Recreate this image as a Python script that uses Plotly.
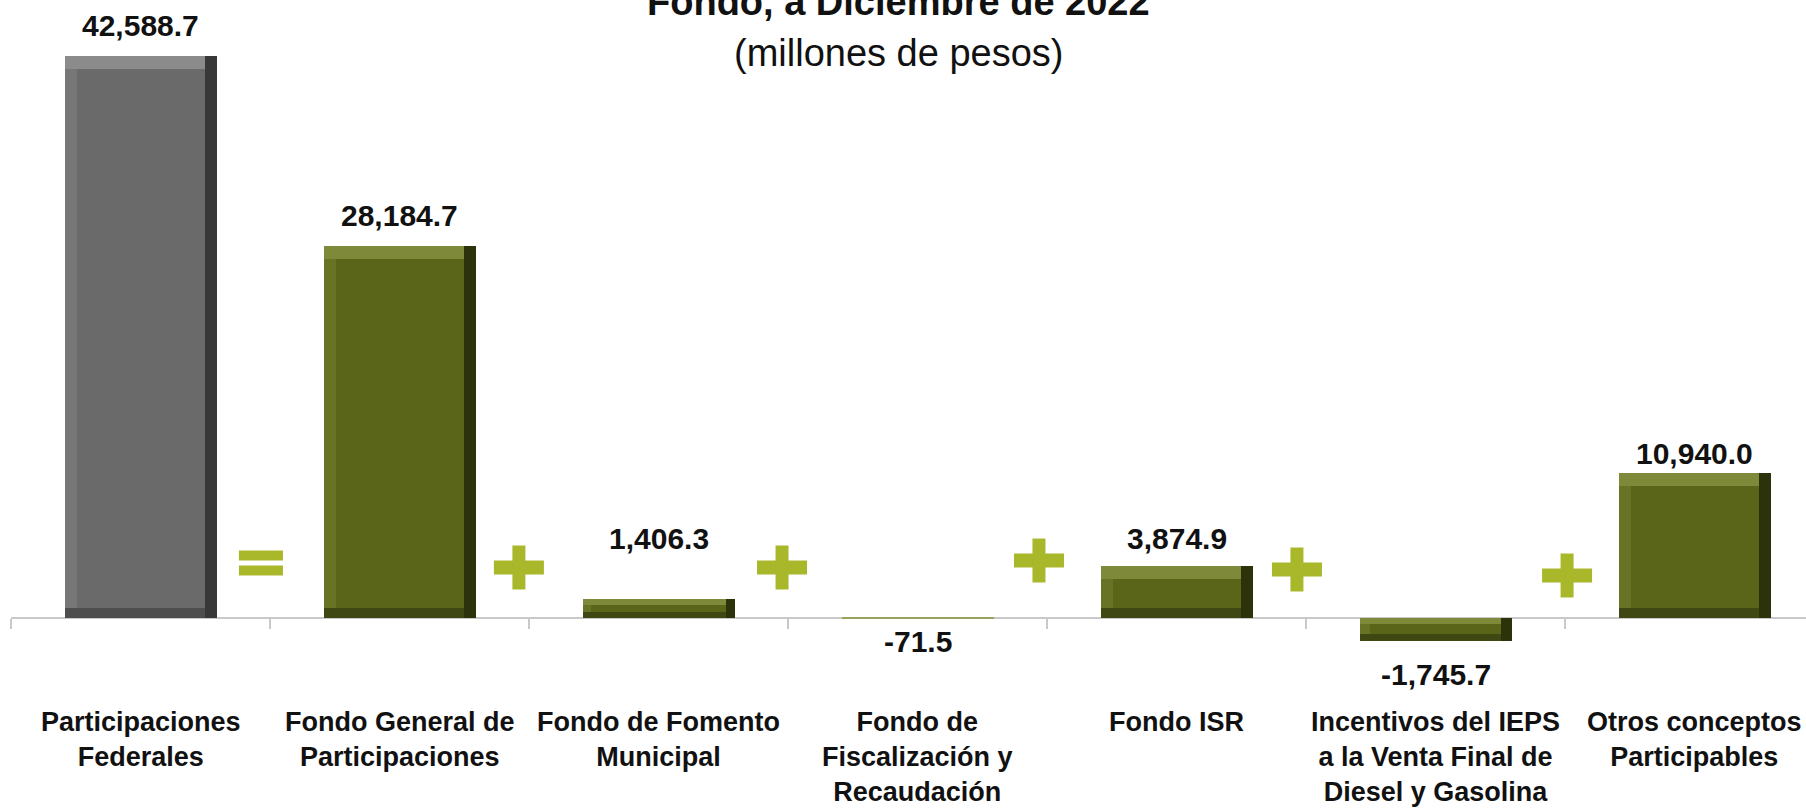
import plotly.graph_objects as go

# ---------------- data ----------------
categories = [
    "Participaciones<br>Federales",
    "Fondo General de<br>Participaciones",
    "Fondo de Fomento<br>Municipal",
    "Fondo de<br>Fiscalización y<br>Recaudación",
    "Fondo ISR",
    "Incentivos del IEPS<br>a la Venta Final de<br>Diesel y Gasolina",
    "Otros conceptos<br>Participables",
]
values = [42588.7, 28184.7, 1406.3, -71.5, 3874.9, -1745.7, 10940.0]
value_labels = ["42,588.7", "28,184.7", "1,406.3", "-71.5", "3,874.9", "-1,745.7", "10,940.0"]
operators = ["=", "+", "+", "+", "+", "+"]

# ---------------- layout constants (pixels) ----------------
W_PX, H_PX = 1806, 808
M_L, M_R, M_T = 11, 0, 0
PLOT_BOTTOM = 700
M_B = H_PX - PLOT_BOTTOM
ZERO_PX = 617.5
MAXTOP_PX = 56
CAT_PX = 259.0

k = (ZERO_PX - MAXTOP_PX) / max(values)          # px per unit
ymax = (ZERO_PX - M_T) / k
ymin = -(PLOT_BOTTOM - ZERO_PX) / k
zero_frac = (0 - ymin) / (ymax - ymin)
xmin = -0.5
xmax = (W_PX - M_L - M_R) / CAT_PX - 0.5

BAR_W = 152 / CAT_PX
label_shift = [31, 30, 60, -23, 28, -34, 20]
op_x = [0.465, 1.461, 2.477, 3.469, 4.465, 5.508]
op_dy = [54, 50, 50, 57, 48, 42]

GREEN = dict(face="#5B651A", top="#7E8A3A", left="#687326", right="#2C320A", bottom="#3F4712")
GRAY = dict(face="#6A6A6A", top="#8B8B8B", left="#777777", right="#383838", bottom="#4E4E4E")
THIN = "#9AA35C"
PLUS = "#A8B82A"

palettes = [GRAY] + [GREEN] * (len(values) - 1)

# ---------------- bevel layers (from data) ----------------
layers = {n: dict(base=[], y=[], offset=[], width=[], color=[]) for n in
          ["right", "bottom", "left", "top", "face"]}
for i, v in enumerate(values):
    lo, hi = min(0, v), max(0, v)
    h = hi - lo
    hpx = h * k
    pal = palettes[i]
    if hpx < 4:
        for n in layers:
            layers[n]["base"].append(lo)
            layers[n]["y"].append(h)
            layers[n]["offset"].append(-BAR_W / 2)
            layers[n]["width"].append(BAR_W)
            layers[n]["color"].append(THIN)
        continue
    tpx = min(13, hpx * 0.3)
    bpx = min(10, hpx * 0.28)
    spx = min(12, max(6, hpx * 0.45))
    bt, bb, bs = tpx / k, bpx / k, spx / CAT_PX
    spec = {
        "right": (lo, h, -BAR_W / 2, BAR_W),
        "bottom": (lo, h, -BAR_W / 2, BAR_W - bs),
        "left": (lo + bb, h - bb, -BAR_W / 2, BAR_W - bs),
        "top": (hi - bt, bt, -BAR_W / 2, BAR_W - bs),
        "face": (lo + bb, h - bb - bt, -BAR_W / 2 + bs, BAR_W - 2 * bs),
    }
    for n, (b0, hh, off, wd) in spec.items():
        layers[n]["base"].append(b0)
        layers[n]["y"].append(hh)
        layers[n]["offset"].append(off)
        layers[n]["width"].append(wd)
        layers[n]["color"].append(pal[n])

fig = go.Figure()
xs = list(range(len(values)))
for n in ["right", "bottom", "left", "top", "face"]:
    L = layers[n]
    fig.add_trace(go.Bar(
        x=xs, y=L["y"], base=L["base"], offset=L["offset"], width=L["width"],
        marker=dict(color=L["color"], line=dict(width=0)),
        hoverinfo="skip", showlegend=False,
    ))

FONT = "Liberation Sans, Arial, sans-serif"
annotations = []
# value labels
for i, (v, t) in enumerate(zip(values, value_labels)):
    annotations.append(dict(
        x=i, y=v, xref="x", yref="y", text=f"<b>{t}</b>", showarrow=False,
        yanchor="middle", xanchor="center", yshift=label_shift[i],
        font=dict(family=FONT, size=30, color="#111111"),
    ))
# category labels
for i, c in enumerate(categories):
    annotations.append(dict(
        x=i, y=0, xref="x", yref="y", text=f"<b>{c}</b>", showarrow=False,
        yanchor="top", xanchor="center", yshift=-87,
        font=dict(family=FONT, size=27, color="#111111"),
    ))
# titles
title_x = (898 - M_L) / CAT_PX - 0.5
annotations.append(dict(
    x=title_x, y=1, xref="x", yref="paper", text="<b>Fondo, a Diciembre de 2022</b>",
    showarrow=False, xanchor="center", yanchor="bottom", yshift=-25,
    font=dict(family=FONT, size=38, color="#111111"),
))
annotations.append(dict(
    x=title_x, y=1, xref="x", yref="paper", text="(millones de pesos)",
    showarrow=False, xanchor="center", yanchor="middle", yshift=-53,
    font=dict(family=FONT, size=38, color="#111111"),
))

# operator symbols
shapes = []
for ox, dy, op in zip(op_x, op_dy, operators):
    common = dict(type="rect", xref="x", yref="y", xsizemode="pixel", ysizemode="pixel",
                  xanchor=ox, yanchor=0, fillcolor=PLUS, line=dict(width=0), layer="above")
    if op == "=":
        shapes.append(dict(common, x0=-22, x1=22, y0=dy + 3, y1=dy + 13))
        shapes.append(dict(common, x0=-22, x1=22, y0=dy - 12, y1=dy - 2))
    else:
        shapes.append(dict(common, x0=-25, x1=25, y0=dy - 7, y1=dy + 7))
        shapes.append(dict(common, x0=-6.5, x1=6.5, y0=dy - 22, y1=dy + 22))

fig.update_layout(
    width=W_PX, height=H_PX,
    margin=dict(l=M_L, r=M_R, t=M_T, b=M_B, pad=0),
    paper_bgcolor="white", plot_bgcolor="white",
    barmode="overlay", bargap=0,
    showlegend=False,
    annotations=annotations, shapes=shapes,
    xaxis=dict(range=[xmin, xmax], showgrid=False, zeroline=False,
               showline=True, linecolor="#C9C9C9", linewidth=2,
               ticks="outside", tickvals=[i - 0.5 for i in range(len(values) + 1)],
               ticklen=10, tickwidth=2, tickcolor="#C9C9C9", showticklabels=False,
               anchor="free", position=zero_frac, layer="below traces", fixedrange=True),
    yaxis=dict(range=[ymin, ymax], visible=False, fixedrange=True),
)

fig.write_html("out.html", config={"displayModeBar": False},
               post_script="document.body.style.margin='0px';")
